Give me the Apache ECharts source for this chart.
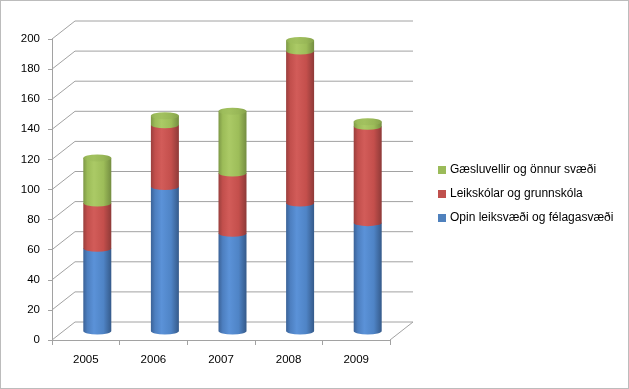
<!DOCTYPE html>
<html>
<head>
<meta charset="utf-8">
<script src="https://cdn.jsdelivr.net/npm/echarts@6/dist/echarts.min.js"></script>
<style>
html,body{margin:0;padding:0;background:#fff;}
#c{position:absolute;left:0;top:0;width:629px;height:389px;}
#b{position:absolute;left:0;top:0;width:629px;height:389px;box-sizing:border-box;border:1px solid #bcbcbc;pointer-events:none;}
</style>
</head>
<body>
<div id="c"></div>
<div id="b"></div>
<script>
// ---- data ----
const categories = ['2005', '2006', '2007', '2008', '2009'];
const seriesNames = ['Opin leiksvæði og félagasvæði', 'Leikskólar og grunnskóla', 'Gæsluvellir og önnur svæði'];
const opinValues = [55, 96, 65, 85, 72];
const leikValues = [30, 41, 40, 101, 64];
const gaesValues = [30, 6, 41, 7, 3];
const yMin = 0, yMax = 200, yStep = 20;

// ---- style ----
const DX = 23, DY = -18;          // depth of the 3D box
const RX = 14, RY = 3.5;          // cylinder radii
const GRID = '#a2a2a2';
const palettes = [
  {base: '#4F81BD', stops: ['#3b6297', '#4d7fc0', '#5b92d8', '#4f84c6', '#355a8a']},
  {base: '#C0504D', stops: ['#9a3f3d', '#c24f4c', '#d25c59', '#c44f4c', '#8e3a38']},
  {base: '#9BBB59', stops: ['#7d9846', '#9cbc58', '#abca66', '#9dbd59', '#748d41']}
];
const capStops = ['#8eab50', '#9dbd5b', '#a2c15f', '#98b757', '#86a24b'];

function grad(stops) {
  return new echarts.graphic.LinearGradient(0, 0, 1, 0, [
    {offset: 0, color: stops[0]},
    {offset: 0.15, color: stops[1]},
    {offset: 0.38, color: stops[2]},
    {offset: 0.72, color: stops[3]},
    {offset: 1, color: stops[4]}
  ]);
}

const stacks = [opinValues, leikValues, gaesValues];
function stackData(s) {
  return categories.map((c, i) => {
    let base = 0;
    for (let k = 0; k < s; k++) base += stacks[k][i];
    return [i, base, base + stacks[s][i]];
  });
}

function cylRender(s, isTop) {
  return function (params, api) {
    const i = api.value(0);
    const p0 = api.coord([i, api.value(1)]);
    const p1 = api.coord([i, api.value(2)]);
    const cx = p0[0] + DX / 2, yb = p0[1] + DY / 2, yt = p1[1] + DY / 2;
    const body = 'M' + (cx - RX) + ',' + yt + ' L' + (cx - RX) + ',' + yb +
      ' A' + RX + ',' + RY + ' 0 0 0 ' + (cx + RX) + ',' + yb +
      ' L' + (cx + RX) + ',' + yt + ' Z';
    const children = [{type: 'path', shape: {pathData: body}, style: {fill: grad(palettes[s].stops)}}];
    if (isTop) {
      const cap = 'M' + (cx - RX) + ',' + yt +
        ' A' + RX + ',' + RY + ' 0 1 0 ' + (cx + RX) + ',' + yt +
        ' A' + RX + ',' + RY + ' 0 1 0 ' + (cx - RX) + ',' + yt + ' Z';
      children.push({type: 'path', shape: {pathData: cap}, style: {fill: grad(capStops)}});
    }
    return {type: 'group', children: children};
  };
}

const tickVals = [];
for (let v = yMin; v <= yMax; v += yStep) tickVals.push([v]);

const wallSeries = {
  type: 'custom',
  silent: true,
  z: 1,
  data: tickVals,
  encode: {y: 0},
  renderItem: function (params, api) {
    const cs = params.coordSys;
    const v = api.value(0);
    const y = api.coord([0, v])[1];
    const x0 = cs.x;
    const ch = [
      {type: 'line', shape: {x1: x0, y1: y, x2: x0 + DX, y2: y + DY}, style: {stroke: GRID, lineWidth: 1}},
      {type: 'line', shape: {x1: x0 + DX, y1: y + DY, x2: x0 + cs.width + DX, y2: y + DY}, style: {stroke: GRID, lineWidth: 1}}
    ];
    if (v === yMin) {
      ch.push({type: 'line', shape: {x1: x0 + cs.width, y1: y, x2: x0 + cs.width + DX, y2: y + DY}, style: {stroke: GRID, lineWidth: 1}});
    }
    return {type: 'group', children: ch};
  }
};

const chart = echarts.init(document.getElementById('c'), null, {renderer: 'canvas'});
const FONT = 'Liberation Sans';
chart.setOption({
  animation: false,
  backgroundColor: '#ffffff',
  textStyle: {fontFamily: FONT},
  legend: {
    orient: 'vertical',
    left: 438,
    top: 164,
    padding: 0,
    itemWidth: 8,
    itemHeight: 8,
    itemGap: 12,
    icon: 'rect',
    data: [seriesNames[2], seriesNames[1], seriesNames[0]],
    textStyle: {fontFamily: FONT, fontSize: 12, color: '#000', padding: [0, 0, 0, -1]}
  },
  grid: {left: 52, top: 39, width: 338, height: 301, containLabel: false},
  xAxis: {
    type: 'category',
    data: categories,
    boundaryGap: true,
    axisLine: {show: true, lineStyle: {color: GRID, width: 1}},
    axisTick: {show: true, length: 5, lineStyle: {color: GRID}},
    axisLabel: {fontFamily: FONT, fontSize: 11.5, color: '#000', margin: 14},
    splitLine: {show: false}
  },
  yAxis: {
    type: 'value',
    min: yMin,
    max: yMax,
    interval: yStep,
    axisLine: {show: true, lineStyle: {color: GRID, width: 1}},
    axisTick: {show: true, length: 4, lineStyle: {color: GRID}},
    axisLabel: {fontFamily: FONT, fontSize: 11.5, color: '#000', margin: 12},
    splitLine: {show: false}
  },
  series: [
    wallSeries,
    {type: 'custom', name: seriesNames[0], z: 2, itemStyle: {color: palettes[0].base}, data: stackData(0), encode: {x: 0, y: [1, 2]}, renderItem: cylRender(0, false)},
    {type: 'custom', name: seriesNames[1], z: 3, itemStyle: {color: palettes[1].base}, data: stackData(1), encode: {x: 0, y: [1, 2]}, renderItem: cylRender(1, false)},
    {type: 'custom', name: seriesNames[2], z: 4, itemStyle: {color: palettes[2].base}, data: stackData(2), encode: {x: 0, y: [1, 2]}, renderItem: cylRender(2, true)}
  ]
});
</script>
</body>
</html>
